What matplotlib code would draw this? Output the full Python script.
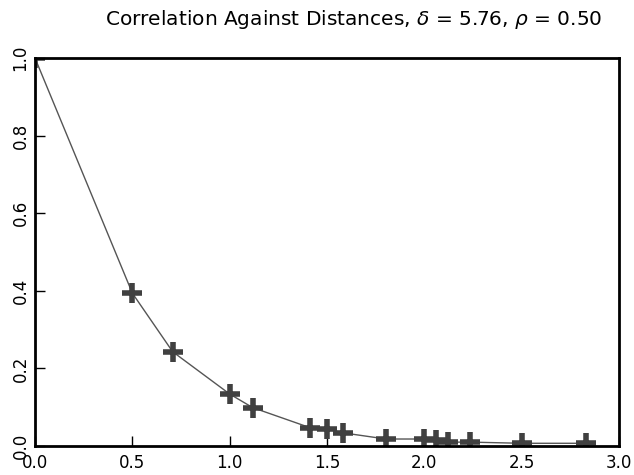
import matplotlib
matplotlib.use("Agg")
import matplotlib.pyplot as plt

# distances between grid points and the correlation
distances = [0.0, 0.5, 0.7071, 1.0, 1.118, 1.4142, 1.5, 1.5811, 1.8028,
             2.0, 2.0616, 2.1213, 2.2361, 2.5, 2.8284]
correlation = [1.0, 0.394, 0.243, 0.134, 0.099, 0.047, 0.044, 0.034, 0.018,
               0.018, 0.015, 0.010, 0.010, 0.007, 0.007]
x_ticks = [0.0, 0.5, 1.0, 1.5, 2.0, 2.5, 3.0]
y_ticks = [0.0, 0.2, 0.4, 0.6, 0.8, 1.0]

fig = plt.figure(figsize=(6.34, 4.75), dpi=100)
ax = fig.add_axes([35 / 634, 1 - 446 / 475, 584 / 634, 388 / 475])

ax.plot(distances, correlation, color="#555555", linewidth=1.0, zorder=2)
ax.plot(distances, correlation, linestyle="none", marker="+", markersize=15,
        markeredgewidth=4, color="#404040", zorder=2.2)

ax.set_xlim(0, 3)
ax.set_ylim(0, 1)
ax.set_xticks(x_ticks)
ax.set_yticks(y_ticks)
ax.set_xticklabels([f"{v:.1f}" for v in x_ticks])
ax.set_yticklabels([f"{v:.1f}" for v in y_ticks], rotation=90, va="center")

ax.tick_params(direction="in", length=7, width=1, labelsize=12,
               top=False, right=False, pad=6)
ax.tick_params(axis="y", pad=4)
for side in ax.spines.values():
    side.set_linewidth(2)

ax.set_title("Correlation Against Distances, $\\delta$ = 5.76, $\\rho$ = 0.50",
             fontsize=14.5, pad=24, x=0.546)

fig.savefig("out.png", dpi=100)
